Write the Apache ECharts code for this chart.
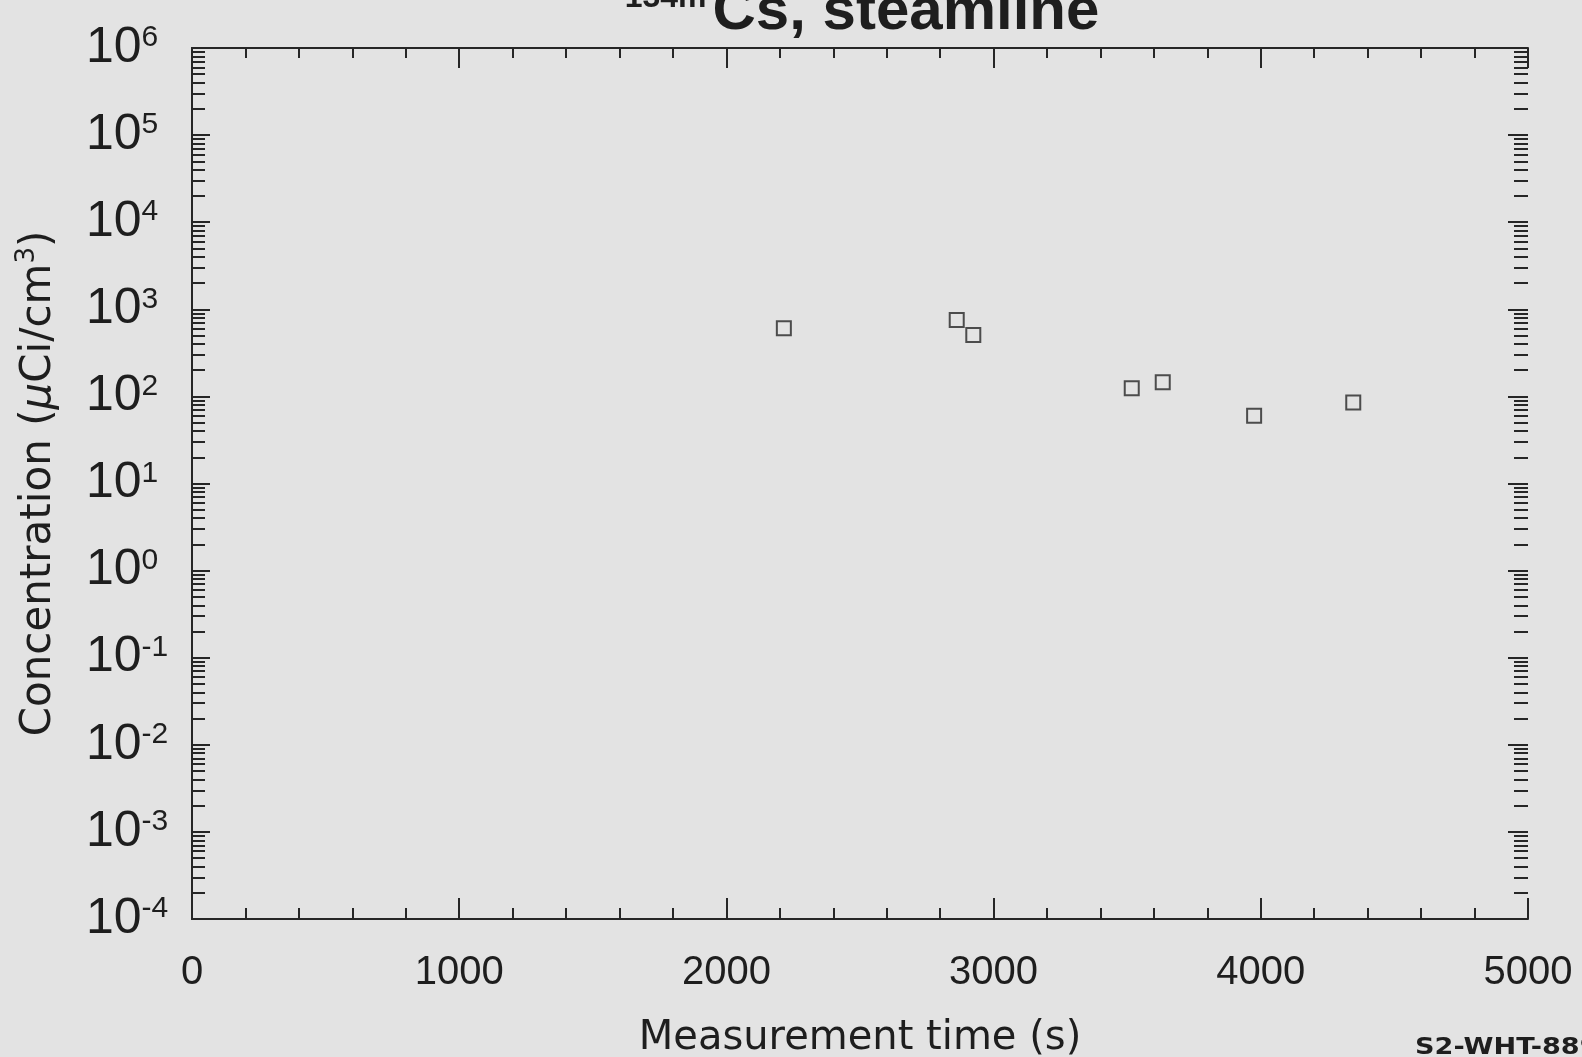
<!DOCTYPE html>
<html>
<head>
<meta charset="utf-8">
<script src="https://cdn.jsdelivr.net/npm/echarts@6/dist/echarts.min.js"></script>
<style>
html,body{margin:0;padding:0;background:#e3e3e3;}
#chart{width:1582px;height:1057px;}
</style>
</head>
<body>
<div id="chart"></div>
<script>
// Data
var measurementTime = [2215, 2862, 2924, 3517, 3633, 3975, 4346];
var concentration = [605, 753, 507, 124, 145, 60, 85];
var xTicks = [0, 1000, 2000, 3000, 4000, 5000];
var decadeExponents = [-4, -3, -2, -1, 0, 1, 2, 3, 4, 5, 6];
var minorMultipliers = [2, 3, 4, 5, 6, 7, 8, 9];

var minorLogTicks = [];
decadeExponents.slice(0, -1).forEach(function (e) {
  minorMultipliers.forEach(function (k) { minorLogTicks.push(e + Math.log10(k)); });
});

var ink = '#262626';
var tickFont = 'Liberation Sans';
var nameFont = 'DejaVu Sans';

var chart = echarts.init(document.getElementById('chart'));
var points = measurementTime.map(function (t, i) { return [t, concentration[i]]; });

function xAxisBase(pos) {
  return {
    type: 'value', min: xTicks[0], max: xTicks[xTicks.length - 1], interval: 1000,
    position: pos, gridIndex: 0,
    axisLine: { show: true, onZero: false, lineStyle: { color: ink, width: 2 } },
    axisTick: { show: true, inside: true, length: 21, lineStyle: { color: ink, width: 2 } },
    minorTick: { show: true, splitNumber: 5, length: 11, lineStyle: { color: ink, width: 2 } },
    splitLine: { show: false }, minorSplitLine: { show: false }
  };
}
var xBottom = xAxisBase('bottom');
xBottom.axisLabel = {
  show: true, margin: 34, fontFamily: tickFont, fontSize: 40, color: '#1e1e1e',
  formatter: function (v) { return String(v); }
};
xBottom.name = 'Measurement time (s)';
xBottom.nameLocation = 'middle';
xBottom.nameGap = 100;
xBottom.nameTextStyle = { fontFamily: nameFont, fontSize: 40, color: '#1e1e1e' };
var xTop = xAxisBase('top');
xTop.axisLabel = { show: false };
xTop.minorTick.length = 10;
xTop.axisTick.length = 20;

var yMain = {
  type: 'log', logBase: 10, min: 1e-4, max: 1e6, interval: 1, position: 'left',
  axisLine: { show: true, lineStyle: { color: ink, width: 2 } },
  axisTick: { show: false },
  splitLine: { show: false },
  axisLabel: {
    show: true, align: 'left', margin: 106, padding: [0, 0, 0, 0],
    formatter: function (v) {
      return '{b|10}{e|' + Math.round(Math.log10(v)) + '}';
    },
    rich: {
      b: { fontFamily: tickFont, fontSize: 50, lineHeight: 50, padding: [8, 0, 0, 0], verticalAlign: 'bottom', color: '#1e1e1e' },
      e: { fontFamily: tickFont, fontSize: 30, lineHeight: 30, verticalAlign: 'top', color: '#1e1e1e' }
    }
  },
  name: '{a|Concentration (}{m|μ}{a|Ci/cm}{s|3}{a|)}',
  nameLocation: 'middle', nameGap: 132, nameRotate: 90,
  nameTextStyle: {
    rich: {
      a: { fontFamily: nameFont, fontSize: 42, lineHeight: 46, verticalAlign: 'bottom', color: '#1e1e1e' },
      m: { fontFamily: nameFont, fontSize: 42, lineHeight: 46, fontStyle: 'italic', verticalAlign: 'bottom', color: '#1e1e1e' },
      s: { fontFamily: nameFont, fontSize: 26, lineHeight: 26, verticalAlign: 'top', color: '#1e1e1e' }
    }
  }
};
var yRight = {
  type: 'log', logBase: 10, min: 1e-4, max: 1e6, interval: 1, position: 'right',
  axisLine: { show: true, lineStyle: { color: ink, width: 2 } },
  axisTick: { show: false },
  axisLabel: { show: false }, splitLine: { show: false }
};
function tickAxis(pos, len, values) {
  return {
    type: 'value', min: decadeExponents[0], max: decadeExponents[decadeExponents.length - 1],
    position: pos, offset: 0,
    axisLine: { show: false },
    axisTick: { show: true, inside: true, length: len, customValues: values, lineStyle: { color: ink, width: 2 } },
    axisLabel: { show: false }, splitLine: { show: false }
  };
}

chart.setOption({
  backgroundColor: '#e3e3e3',
  animation: false,
  grid: { left: 192, right: 54, top: 48, bottom: 138, containLabel: false, outerBoundsMode: 'none' },
  xAxis: [xBottom, xTop],
  yAxis: [
    yMain, yRight,
    tickAxis('left', 13, minorLogTicks), tickAxis('right', 14, minorLogTicks),
    tickAxis('left', 18, decadeExponents), tickAxis('right', 20, decadeExponents)
  ],
  graphic: [
    {
      type: 'text', x: 862, y: 12, z: 100,
      style: {
        text: '{sup|134m}{main|Cs, steamline}',
        align: 'center', verticalAlign: 'middle',
        rich: {
          sup: { fontFamily: tickFont, fontWeight: 'bold', fontSize: 32, lineHeight: 24, verticalAlign: 'top', padding: [0, 6, 0, 0], fill: '#1e1e1e' },
          main: { fontFamily: tickFont, fontWeight: 'bold', fontSize: 60, lineHeight: 60, fill: '#1e1e1e' }
        }
      }
    },
    {
      type: 'text', x: 1415, y: 1048, z: 100, scaleX: 1.18,
      style: {
        text: 'S2-WHT-889', fontFamily: nameFont, fontWeight: 'bold', fontSize: 23,
        align: 'left', verticalAlign: 'middle', fill: '#1e1e1e'
      }
    }
  ],
  series: [{
    type: 'scatter', xAxisIndex: 0, yAxisIndex: 0,
    data: points, symbol: 'rect', symbolSize: 14,
    itemStyle: { color: 'rgba(0,0,0,0)', borderColor: ink, borderWidth: 2 }
  }]
});
</script>
</body>
</html>
